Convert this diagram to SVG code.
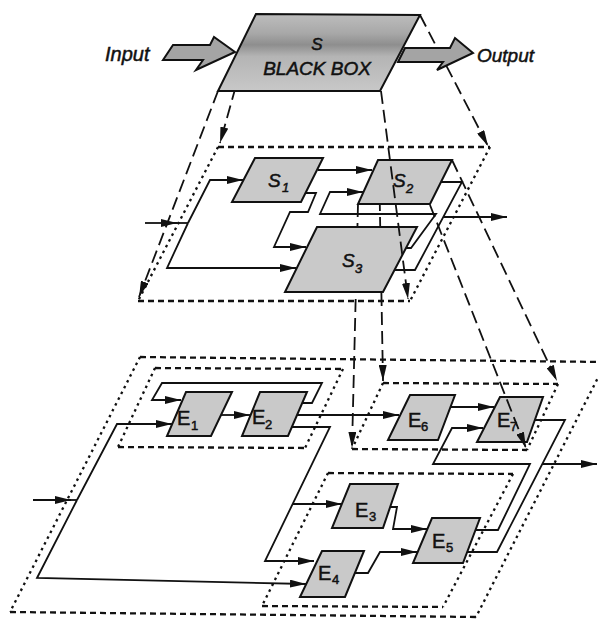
<svg xmlns="http://www.w3.org/2000/svg" width="598" height="619" viewBox="0 0 598 619">
<defs>
<style>
.proj{fill:none;stroke:#111;stroke-width:1.8;stroke-dasharray:13 6}
.wire{fill:none;stroke:#111;stroke-width:1.8;stroke-linejoin:miter}
.gh{fill:none;stroke:#111;stroke-width:2.3;stroke-dasharray:6 4}
.gd{fill:none;stroke:#111;stroke-width:2.3;stroke-dasharray:2.5 4}
.box{fill:#c9c9c9;stroke:#111;stroke-width:2}
.fat{fill:#a4a4a4;stroke:#111;stroke-width:2;stroke-linejoin:miter}
.lbl{font-family:"Liberation Sans",Arial,sans-serif;fill:#111;stroke:#111;stroke-width:0.5}
.it{font-style:italic}
</style>
<marker id="ah" viewBox="0 0 16 8" refX="16" refY="4" markerWidth="16" markerHeight="8" markerUnits="userSpaceOnUse" orient="auto"><path d="M0,0 L16,4 L0,8 Z" fill="#111"/></marker>
<linearGradient id="bbg" x1="0" y1="0" x2="0" y2="1">
<stop offset="0" stop-color="#bdbdbd"/>
<stop offset="0.25" stop-color="#a8a8a8"/>
<stop offset="0.4" stop-color="#8e8e8e"/>
<stop offset="0.55" stop-color="#b4b4b4"/>
<stop offset="1" stop-color="#c8c8c8"/>
</linearGradient>
</defs>

<!-- projection lines from black box (behind) -->
<g id="proj-top">
<path class="proj" d="M218,91 L139,297" marker-end="url(#ah)"/>
<path class="proj" d="M256,14 L220,143" marker-end="url(#ah)"/>
<path class="proj" d="M420,15 L488,146" marker-end="url(#ah)"/>
</g>

<g id="blackbox">
<path d="M256,14 L420,15 L380,91 L218,91 Z" fill="url(#bbg)" stroke="#111" stroke-width="2"/>
<text class="lbl it" x="317" y="50" font-size="17" text-anchor="middle">S</text>
<text class="lbl it" x="317" y="75" font-size="19" text-anchor="middle">BLACK BOX</text>
</g>
<g id="input-arrow">
<path class="fat" d="M163,60 L173,45 L210,45 L214,37 L235,52 L196,70 L203,60 Z"/>
<text class="lbl it" x="105" y="61" font-size="20">Input</text>
</g>
<g id="output-arrow">
<path class="fat" d="M398,62 L405,48 L450,48 L455,38 L473,53 L437,70 L443,62 Z"/>
<text class="lbl it" x="477" y="62" font-size="19">Output</text>
</g>

<!-- S level group outline -->
<g id="group-S">
<path class="gh" d="M218,147 L490,147 M138,301 L410,301"/>
<path class="gd" d="M218,147 L138,301 M490,147 L410,301"/>
</g>

<!-- hidden projection lines S2 -> E6/E7 group (behind S boxes) -->
<g id="proj-mid-hidden">
<path class="proj" d="M379,160 L383,381" marker-end="url(#ah)"/>
<path class="proj" d="M358,204 L352,448" marker-end="url(#ah)"/>
</g>

<g id="connectors">
<!-- S level -->
<path class="wire" d="M145,223 L177,223" marker-end="url(#ah)"/>
<path class="wire" d="M170,223 L188,223"/>
<path class="wire" d="M188,223 L210,180 L243,180" marker-end="url(#ah)"/>
<path class="wire" d="M188,223 L167,268 L296,268" marker-end="url(#ah)"/>
<path class="wire" d="M318,170 L372,170" marker-end="url(#ah)"/>
<path class="wire" d="M305,193 L316,193 L308,212 L290,212 L274,247 L306,247" marker-end="url(#ah)"/>
<path class="wire" d="M402,248 L411,248 L436,214 L320,214 L330,192 L363,192" marker-end="url(#ah)"/>
<path class="wire" d="M441,182 L462,182 L415,270 L395,270"/>
<path class="wire" d="M443,217 L507,217" marker-end="url(#ah)"/>
<!-- E level -->
<path class="wire" d="M33,500 L71,500" marker-end="url(#ah)"/>
<path class="wire" d="M65,500 L77,500"/>
<path class="wire" d="M77,500 L117,424 L172,424" marker-end="url(#ah)"/>
<path class="wire" d="M77,500 L37,578 L306,584" marker-end="url(#ah)"/>
<path class="wire" d="M302,403 L312,403 L322,383 L162,383 L152,400 L181,400" marker-end="url(#ah)"/>
<path class="wire" d="M221,415 L250,415" marker-end="url(#ah)"/>
<path class="wire" d="M297,415 L399,415" marker-end="url(#ah)"/>
<path class="wire" d="M292,427 L330,427 L265,561 L314,561" marker-end="url(#ah)"/>
<path class="wire" d="M293,504 L342,504" marker-end="url(#ah)"/>
<path class="wire" d="M390,507 L397,507 L393,529 L427,529" marker-end="url(#ah)"/>
<path class="wire" d="M355,573 L368,573 L380,552 L417,552" marker-end="url(#ah)"/>
<path class="wire" d="M450,407 L494,407" marker-end="url(#ah)"/>
<path class="wire" d="M475,530 L498,530 L530,464 L433,464 L452,428 L483,428" marker-end="url(#ah)"/>
<path class="wire" d="M467,552 L497,552 L565,420 L535,420"/>
<path class="wire" d="M542,464 L597,464" marker-end="url(#ah)"/>
</g>

<g id="S1"><path class="box" d="M255,158 L323,158 L301,202 L232,202 Z"/>
<text class="lbl it" font-size="19"><tspan x="268" y="187">S</tspan><tspan x="282" y="192" font-size="13">1</tspan></text></g>
<g id="S2"><path class="box" d="M378,160 L452,160 L430,204 L358,204 Z"/>
<text class="lbl it" font-size="19"><tspan x="393" y="187">S</tspan><tspan x="406" y="193" font-size="13">2</tspan></text></g>
<g id="S3"><path class="box" d="M317,227 L417,227 L383,292 L285,292 Z"/>
<text class="lbl it" font-size="19"><tspan x="342" y="267">S</tspan><tspan x="355" y="273" font-size="13">3</tspan></text></g>

<!-- bottom level groups -->
<g id="group-E">
<path class="gh" d="M140,357 L606,362 M10,612 L476,617"/>
<path class="gd" d="M140,357 L10,612 M606,362 L476,617"/>
</g>
<g id="group-E12">
<path class="gh" d="M155,368 L343,369 M118,447 L305,448"/>
<path class="gd" d="M155,368 L118,447 M343,369 L305,448"/>
</g>
<g id="group-E67">
<path class="gh" d="M383,383 L558,384 M352,449 L527,450"/>
<path class="gd" d="M383,383 L352,449 M558,384 L527,450"/>
</g>
<g id="group-E345">
<path class="gh" d="M328,473 L513,474 M262,606 L443,607"/>
<path class="gd" d="M328,473 L262,606 M513,474 L443,607"/>
</g>

<g id="E1"><path class="box" d="M186,392 L232,392 L211,436 L167,436 Z"/>
<text class="lbl" font-size="20"><tspan x="177" y="425">E</tspan><tspan x="191" y="430" font-size="13">1</tspan></text></g>
<g id="E2"><path class="box" d="M260,392 L307,392 L288,436 L242,436 Z"/>
<text class="lbl" font-size="20"><tspan x="252" y="424">E</tspan><tspan x="265" y="429" font-size="13">2</tspan></text></g>
<g id="E6"><path class="box" d="M410,395 L455,395 L438,440 L388,440 Z"/>
<text class="lbl" font-size="20"><tspan x="408" y="427">E</tspan><tspan x="421" y="431" font-size="13">6</tspan></text></g>
<g id="E7"><path class="box" d="M500,397 L543,397 L527,442 L477,442 Z"/>
<text class="lbl" font-size="20"><tspan x="497" y="427">E</tspan><tspan x="510" y="431" font-size="13">7</tspan></text></g>
<g id="E3"><path class="box" d="M350,484 L398,484 L383,528 L332,528 Z"/>
<text class="lbl" font-size="20"><tspan x="355" y="517">E</tspan><tspan x="369" y="521" font-size="13">3</tspan></text></g>
<g id="E4"><path class="box" d="M322,551 L364,551 L345,597 L300,597 Z"/>
<text class="lbl" font-size="20"><tspan x="318" y="580">E</tspan><tspan x="332" y="584" font-size="13">4</tspan></text></g>
<g id="E5"><path class="box" d="M432,518 L480,518 L463,563 L413,563 Z"/>
<text class="lbl" font-size="20"><tspan x="432" y="548">E</tspan><tspan x="446" y="552" font-size="13">5</tspan></text></g>

<!-- projection lines drawn over boxes -->
<g id="proj-over">
<path class="proj" d="M381,91 L408,299" marker-end="url(#ah)"/>
<path class="proj" d="M452,160 L557,381" marker-end="url(#ah)"/>
<path class="proj" d="M430,205 L526,448" marker-end="url(#ah)"/>
</g>
</svg>
